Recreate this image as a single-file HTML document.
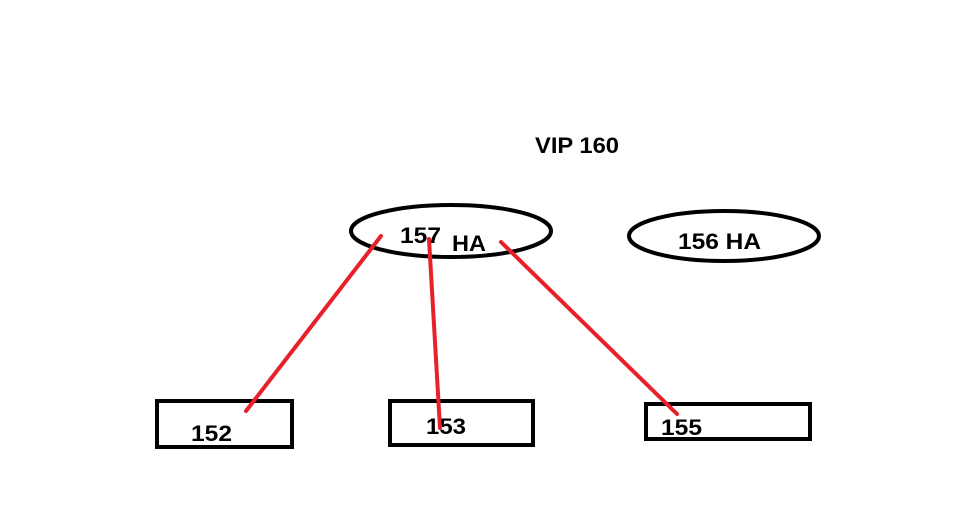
<!DOCTYPE html>
<html><head><style>body{margin:0;background:#fff}svg{display:block}text{font-family:"Liberation Sans",sans-serif;font-weight:bold;font-size:22px;fill:#000}</style></head>
<body><svg width="961" height="506" viewBox="0 0 961 506">
<rect width="961" height="506" fill="#fff"/>
<text x="535" y="153" textLength="84" lengthAdjust="spacingAndGlyphs">VIP 160</text>
<ellipse cx="451" cy="231" rx="100" ry="26" fill="none" stroke="#000" stroke-width="4"/>
<ellipse cx="724" cy="236" rx="95" ry="25" fill="none" stroke="#000" stroke-width="4"/>
<text x="400" y="243" textLength="41" lengthAdjust="spacingAndGlyphs">157</text>
<text x="452" y="251" textLength="34" lengthAdjust="spacingAndGlyphs">HA</text>
<text x="678" y="249" textLength="83" lengthAdjust="spacingAndGlyphs">156 HA</text>
<rect x="157" y="401" width="135" height="46" fill="none" stroke="#000" stroke-width="4"/>
<rect x="390" y="401" width="143" height="44" fill="none" stroke="#000" stroke-width="4"/>
<rect x="646" y="404" width="164" height="35" fill="none" stroke="#000" stroke-width="4"/>
<text x="191" y="441" textLength="41" lengthAdjust="spacingAndGlyphs">152</text>
<text x="426" y="434" textLength="40" lengthAdjust="spacingAndGlyphs">153</text>
<text x="661" y="435" textLength="41" lengthAdjust="spacingAndGlyphs">155</text>
<g stroke="#e8202a" stroke-width="4" stroke-linecap="round">
<line x1="381" y1="236" x2="246" y2="411"/>
<line x1="429" y1="239" x2="440" y2="428"/>
<line x1="501" y1="242" x2="677" y2="414"/>
</g>
</svg></body></html>
